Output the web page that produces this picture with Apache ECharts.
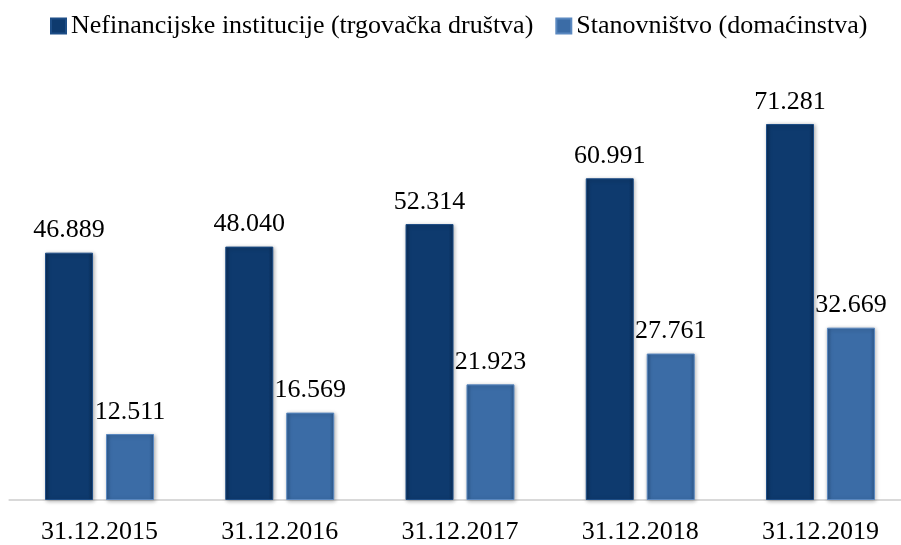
<!DOCTYPE html>
<html>
<head>
<meta charset="utf-8">
<script src="https://cdn.jsdelivr.net/npm/echarts@6/dist/echarts.min.js"></script>
<style>
  html, body { margin: 0; padding: 0; background: #fff; overflow: hidden; }
  #main { width: 915px; height: 545px; }
</style>
</head>
<body>
<div id="main"></div>
<script>
var categories = ['31.12.2015', '31.12.2016', '31.12.2017', '31.12.2018', '31.12.2019'];
var seriesNames = ['Nefinancijske institucije (trgovačka društva)', 'Stanovništvo (domaćinstva)'];
var corporate = [46.889, 48.040, 52.314, 60.991, 71.281];
var households = [12.511, 16.569, 21.923, 27.761, 32.669];

// bars have a bevelled look in the original, fake it with darker edges
function bevel(edge, main) {
  return new echarts.graphic.LinearGradient(0, 0, 1, 0, [
    {offset: 0, color: edge},
    {offset: 0.1, color: main},
    {offset: 0.9, color: main},
    {offset: 1, color: edge}
  ]);
}

var chart = echarts.init(document.getElementById('main'));

var labelStyle = {
  show: true,
  position: 'top',
  distance: 9,
  fontFamily: 'Liberation Serif',
  fontSize: 26,
  color: '#000',
  formatter: function (p) { return p.value.toFixed(3); }
};

chart.setOption({
  animation: false,
  legend: {
    top: 8,
    left: 45,
    icon: 'rect',
    itemWidth: 15,
    itemHeight: 15,
    itemGap: 22,
    textStyle: {fontFamily: 'Liberation Serif', fontSize: 26, color: '#000'},
    data: [
      {name: seriesNames[0], itemStyle: {color: '#0e3a6e'}},
      {name: seriesNames[1], itemStyle: {color: '#3b6ca6'}}
    ]
  },
  grid: {left: 9.4, right: 4.4, top: 78, bottom: 45},
  xAxis: {
    type: 'category',
    data: categories,
    axisTick: {show: false},
    axisLine: {lineStyle: {color: '#d9d9d9', width: 2}},
    axisLabel: {fontFamily: 'Liberation Serif', fontSize: 26, color: '#000', margin: 19}
  },
  yAxis: {
    type: 'value',
    min: 0,
    max: 80,
    show: false,
    splitLine: {show: false}
  },
  series: [
    {
      name: seriesNames[0],
      type: 'bar',
      barWidth: 48,
      barGap: '27%',
      data: corporate,
      label: labelStyle,
      itemStyle: {
        color: bevel('#0a2c55', '#0e3a6e'),
        borderColor: '#1d4d86',
        borderWidth: 1,
        shadowColor: 'rgba(0,0,0,0.3)',
        shadowBlur: 4,
        shadowOffsetX: 1,
        shadowOffsetY: 1
      }
    },
    {
      name: seriesNames[1],
      type: 'bar',
      barWidth: 48,
      data: households,
      label: labelStyle,
      itemStyle: {
        color: bevel('#2e5a8e', '#3b6ca6'),
        borderColor: '#5a88c0',
        borderWidth: 1,
        shadowColor: 'rgba(0,0,0,0.3)',
        shadowBlur: 4,
        shadowOffsetX: 1,
        shadowOffsetY: 1
      }
    }
  ]
});
</script>
</body>
</html>
